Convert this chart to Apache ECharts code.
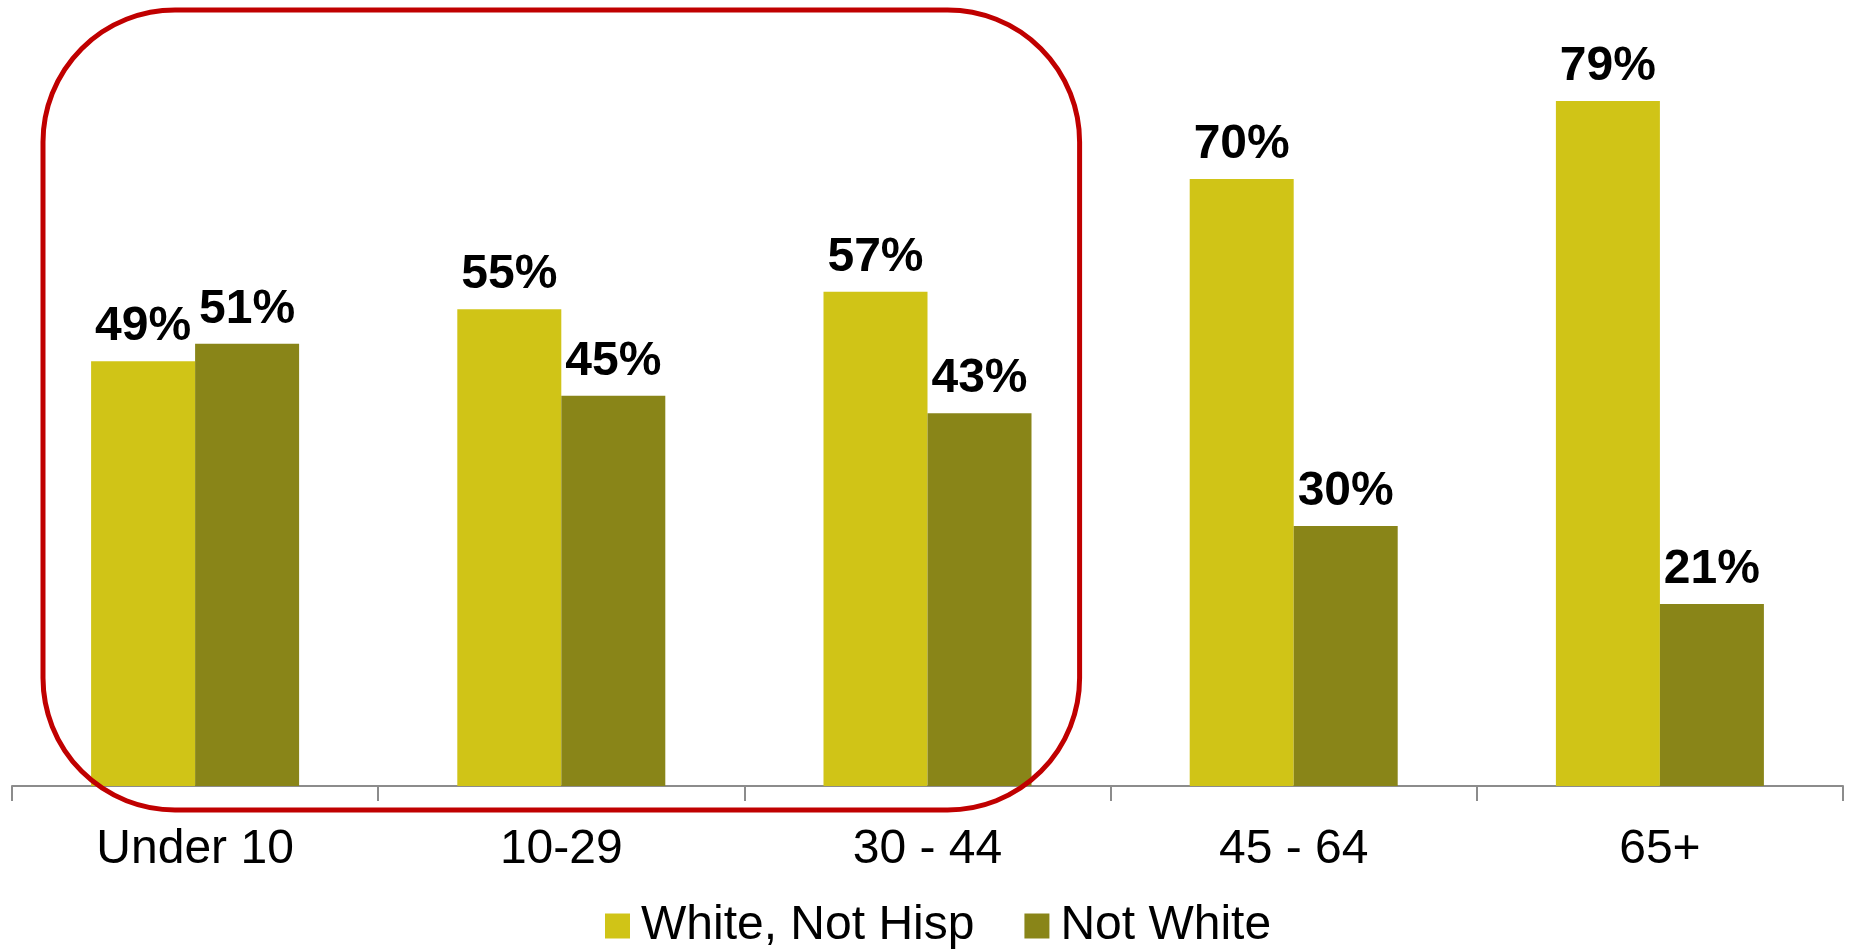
<!DOCTYPE html>
<html>
<head>
<meta charset="utf-8">
<script src="https://cdn.jsdelivr.net/npm/echarts@6/dist/echarts.min.js"></script>
<style>
  html, body { margin: 0; padding: 0; background: #ffffff; }
  #chart { width: 1851px; height: 949px; }
</style>
</head>
<body>
<div id="chart"></div>
<script>
// Age groups on the category axis
const ageGroups = ['Under 10', '10-29', '30 - 44', '45 - 64', '65+'];
// Share of each age group (percent)
const whiteNotHisp = [49, 55, 57, 70, 79];
const notWhite = [51, 45, 43, 30, 21];
const seriesNames = ['White, Not Hisp', 'Not White'];

const FONT = '"Liberation Sans", Arial, sans-serif';
const Y_MAX = 89.5;
const chart = echarts.init(document.getElementById('chart'));

const labelStyle = {
  show: true,
  position: 'top',
  distance: 10,
  formatter: '{c}%',
  color: '#000000',
  fontFamily: FONT,
  fontWeight: 'bold',
  fontSize: 48
};

chart.setOption({
  animation: false,
  backgroundColor: '#ffffff',
  grid: { left: 12, right: 8, top: 10, bottom: 163, containLabel: false },
  legend: {
    data: seriesNames,
    left: 600,
    top: 897,
    itemWidth: 25,
    itemHeight: 25,
    itemGap: 50,
    icon: 'rect',
    textStyle: { fontFamily: FONT, fontSize: 48, color: '#000000', padding: [0, 0, 0, 6] }
  },
  xAxis: {
    type: 'category',
    data: ageGroups,
    axisLine: { lineStyle: { color: '#8c8c8c', width: 2 } },
    axisTick: { show: true, length: 15, lineStyle: { color: '#8c8c8c', width: 2 } },
    axisLabel: { fontFamily: FONT, fontSize: 48, color: '#000000', margin: 40 }
  },
  yAxis: {
    type: 'value',
    min: 0,
    max: Y_MAX,
    show: false,
    splitLine: { show: false }
  },
  series: [
    {
      name: seriesNames[0],
      type: 'bar',
      data: whiteNotHisp,
      barWidth: 104,
      barGap: '0%',
      itemStyle: { color: '#D0C417' },
      label: labelStyle
    },
    {
      name: seriesNames[1],
      type: 'bar',
      data: notWhite,
      barWidth: 104,
      barGap: '0%',
      itemStyle: { color: '#898518' },
      label: labelStyle
    }
  ]
});

// Rounded highlight frame around the first three age groups,
// placed from the axes' own pixel positions.
function drawFrame() {
  const c0 = chart.convertToPixel({ xAxisIndex: 0 }, ageGroups[0]);
  const c1 = chart.convertToPixel({ xAxisIndex: 0 }, ageGroups[1]);
  const c2 = chart.convertToPixel({ xAxisIndex: 0 }, ageGroups[2]);
  const band = c1 - c0;
  const inset = 31;
  const yTop = chart.convertToPixel({ yAxisIndex: 0 }, Y_MAX);
  const yBase = chart.convertToPixel({ yAxisIndex: 0 }, 0);
  const x = c0 - band / 2 + inset;
  const right = c2 + band / 2 - inset;
  chart.setOption({
    graphic: [{
      type: 'rect',
      z: 100,
      silent: true,
      shape: { x: x, y: yTop, width: right - x, height: (yBase + 24) - yTop, r: 132 },
      style: { fill: 'none', stroke: '#C00000', lineWidth: 5 }
    }]
  });
}
drawFrame();
</script>
</body>
</html>
